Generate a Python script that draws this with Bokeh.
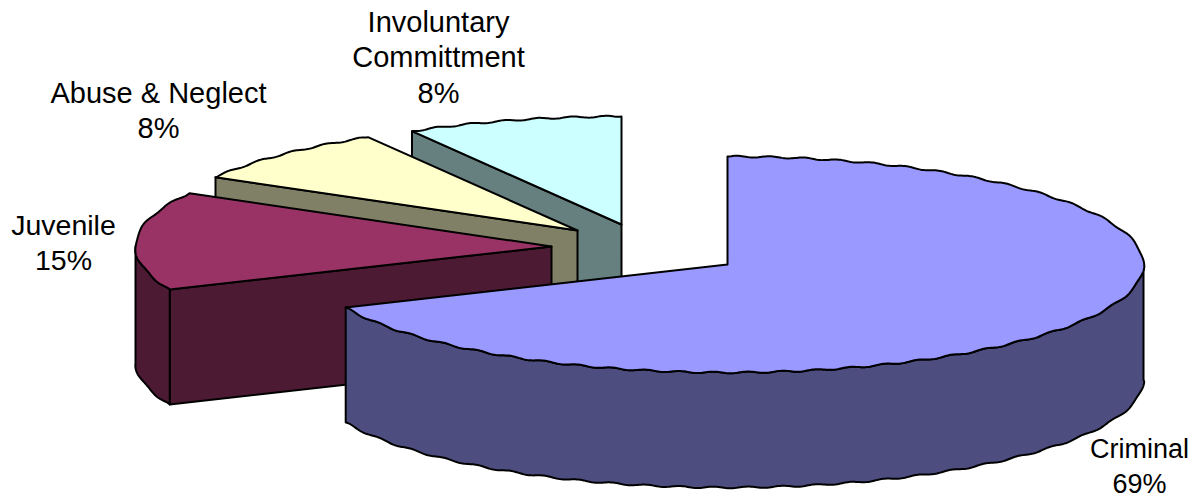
import numpy as np
from bokeh.plotting import figure
from bokeh.models import Range1d, ColumnDataSource
from bokeh.embed import file_html
from bokeh.resources import INLINE
from bokeh.core.properties import value

# data (clockwise from 12 o'clock)
categories = ["Criminal", "Juvenile", "Abuse & Neglect", "Involuntary Committment"]
shares = [68.5, 14.7, 8.4, 8.4]
pct_labels = ["69%", "15%", "8%", "8%"]
label_lines = [["Criminal"], ["Juvenile"], ["Abuse & Neglect"], ["Involuntary", "Committment"]]

# styles / layout
top_colors = ["#9999FF", "#993366", "#FFFFCC", "#CCFFFF"]
side_colors = ["#4D4D80", "#4D1A33", "#808066", "#668080"]
apex = [(727, 264), (551, 246), (577, 230), (621, 224)]
RX, RY, DEPTH = 416, 108, 115
label_centers = [(1139, 448), (63, 224), (158, 92), (438, 21)]
label_sizes = ["27px", "28.5px", "29px", "29px"]
LINE_STEP = 35.5
RIPPLE_PERIOD, RIPPLE_AMP = 34.0, 0.8   # the slightly wavy outline of the reference

W, H = 1194, 500
p = figure(width=W, height=H, output_backend="svg", toolbar_location=None,
           x_range=Range1d(0, W), y_range=Range1d(H, 0),
           min_border=0, outline_line_color=None)
p.axis.visible = False
p.grid.visible = False
p.xaxis.visible = False
p.yaxis.visible = False

# arc length round the whole rim, so that every piece of rim shares one ripple phase
_T = np.radians(np.arange(0, 360.25, 0.25))
_S = np.r_[0, np.cumsum(np.hypot(np.diff(RX * np.sin(_T)), np.diff(RY * np.cos(_T))))]


def arc(c, a0, a1):
    t = np.radians(np.arange(a0, a1, 0.25))
    t = np.r_[t, np.radians(a1)]
    dx, dy = RX * np.sin(t), -RY * np.cos(t)
    s = np.interp(t, _T, _S)
    nx, ny = np.sin(t) / RX, -np.cos(t) / RY
    n = np.hypot(nx, ny)
    env = np.minimum(1, np.minimum(t - t[0], t[-1] - t) / 0.02)  # exact at the corners
    w = RIPPLE_AMP * np.sin(2 * np.pi * s / RIPPLE_PERIOD) * env
    return c[0] + dx + w * nx / n, c[1] + dy + w * ny / n


def draw(xs, ys, color):
    p.patch(list(xs), list(ys), fill_color=color, line_color="black", line_width=2,
            line_join="round")


edges = np.concatenate([[0], np.cumsum(shares)]) * 360.0 / sum(shares)
for i in [3, 2, 1, 0]:
    a0, a1 = edges[i], edges[i + 1]
    c = apex[i]
    # radial cut face at the start of the slice, if it faces the viewer
    if 180 < a0 < 360:
        ex = c[0] + RX * np.sin(np.radians(a0))
        ey = c[1] - RY * np.cos(np.radians(a0))
        draw([ex, c[0], c[0], ex], [ey, c[1], c[1] + DEPTH, ey + DEPTH], side_colors[i])
    # outer rim, front half only
    lo, hi = max(a0, 90), min(a1, 270)
    if hi > lo:
        x, y = arc(c, lo, hi)
        draw(np.r_[x, x[::-1]], np.r_[y, y[::-1] + DEPTH], side_colors[i])
    # top face
    x, y = arc(c, a0, a1)
    draw(np.r_[c[0], x], np.r_[c[1], y], top_colors[i])

# labels
tx, ty, tt, ts = [], [], [], []
for i in range(4):
    lines = label_lines[i] + [pct_labels[i]]
    for j, s in enumerate(lines):
        tx.append(label_centers[i][0])
        ty.append(label_centers[i][1] + j * LINE_STEP)
        tt.append(s)
        ts.append(label_sizes[i])
p.text(x="x", y="y", text="t", text_font_size="s",
       source=ColumnDataSource(dict(x=tx, y=ty, t=tt, s=ts)),
       text_font=value("Liberation Sans"), text_color="black",
       text_align="center", text_baseline="middle")

open("out.html", "w").write(file_html(p, INLINE))
